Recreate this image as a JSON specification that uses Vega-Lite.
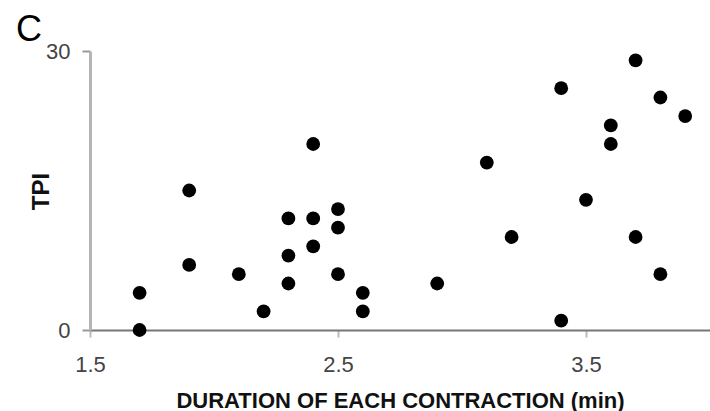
{
  "$schema": "https://vega.github.io/schema/vega-lite/v6.json",
  "autosize": "none",
  "width": 620,
  "height": 279,
  "padding": {"left": 90, "top": 51, "right": 0, "bottom": 81},
  "background": "white",
  "title": {"text": "C", "anchor": "start", "frame": "group", "dx": -74, "dy": 22, "offset": 13, "fontSize": 36, "fontWeight": "normal", "font": "Liberation Sans", "color": "black"},
  "config": {"view": {"stroke": null}},
  "data": {"values": [
    {"duration": 1.7, "tpi": 0},
    {"duration": 1.7, "tpi": 4},
    {"duration": 1.9, "tpi": 7},
    {"duration": 1.9, "tpi": 15},
    {"duration": 2.1, "tpi": 6},
    {"duration": 2.2, "tpi": 2},
    {"duration": 2.3, "tpi": 5},
    {"duration": 2.3, "tpi": 8},
    {"duration": 2.3, "tpi": 12},
    {"duration": 2.4, "tpi": 9},
    {"duration": 2.4, "tpi": 12},
    {"duration": 2.4, "tpi": 20},
    {"duration": 2.5, "tpi": 6},
    {"duration": 2.5, "tpi": 11},
    {"duration": 2.5, "tpi": 13},
    {"duration": 2.6, "tpi": 2},
    {"duration": 2.6, "tpi": 4},
    {"duration": 2.9, "tpi": 5},
    {"duration": 3.1, "tpi": 18},
    {"duration": 3.2, "tpi": 10},
    {"duration": 3.4, "tpi": 1},
    {"duration": 3.4, "tpi": 26},
    {"duration": 3.5, "tpi": 14},
    {"duration": 3.6, "tpi": 20},
    {"duration": 3.6, "tpi": 22},
    {"duration": 3.7, "tpi": 10},
    {"duration": 3.7, "tpi": 29},
    {"duration": 3.8, "tpi": 6},
    {"duration": 3.8, "tpi": 25},
    {"duration": 3.9, "tpi": 23}
  ]},
  "mark": {"type": "circle", "size": 190, "color": "black", "opacity": 1, "clip": false},
  "encoding": {
    "x": {
      "field": "duration", "type": "quantitative",
      "scale": {"domain": [1.5, 4.0], "nice": false, "zero": false},
      "axis": {
        "values": [1.5, 2.5, 3.5], "format": ".1f", "grid": false, "labelFlush": false,
        "domainColor": "#777777", "domainWidth": 2,
        "tickColor": "#bbbbbb", "tickWidth": 2, "tickSize": 7,
        "labelFont": "Liberation Sans", "labelFontSize": 22, "labelColor": "#444444", "labelPadding": 17,
        "title": "DURATION OF EACH CONTRACTION (min)",
        "titleFont": "Liberation Sans", "titleFontSize": 22, "titleFontWeight": "bold", "titleColor": "#111111",
        "titlePadding": 15
      }
    },
    "y": {
      "field": "tpi", "type": "quantitative",
      "scale": {"domain": [0, 30], "nice": false},
      "axis": {
        "values": [0, 30], "grid": false,
        "domainColor": "#b5b5b5", "domainWidth": 3,
        "tickColor": "#999999", "tickWidth": 2, "tickSize": 8,
        "labelFont": "Liberation Sans", "labelFontSize": 22, "labelColor": "#444444", "labelPadding": 12,
        "title": "TPI",
        "titleFont": "Liberation Sans", "titleFontSize": 24, "titleFontWeight": "bold", "titleColor": "#111111",
        "titleAngle": -90, "titleX": -42, "titleY": 140, "titleAlign": "center", "titleBaseline": "alphabetic"
      }
    }
  }
}
